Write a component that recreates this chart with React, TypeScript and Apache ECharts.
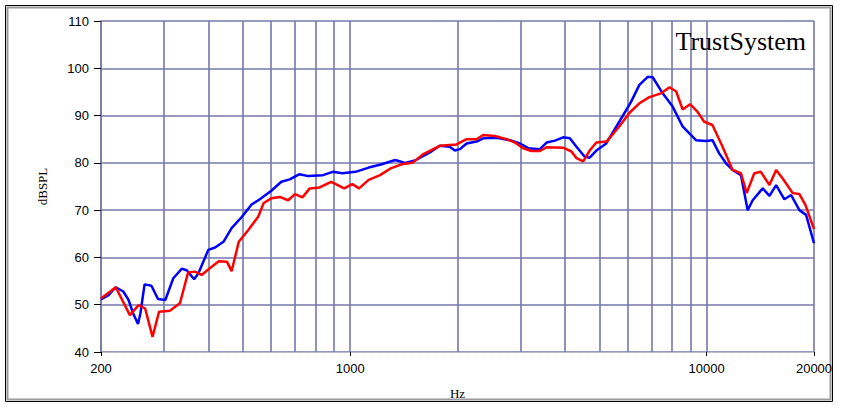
import React, { useEffect, useRef } from "react";
import * as echarts from "echarts";

const blueFreq = [200, 210, 220, 231, 239, 246, 254, 258, 265, 277, 289, 303, 319, 337, 348, 365, 375, 400, 418, 441, 465, 497, 529, 558, 601, 641, 677, 721, 762, 839, 893, 951, 1035, 1127, 1226, 1338, 1426, 1520, 1673, 1784, 1902, 1966, 2032, 2121, 2262, 2361, 2574, 2807, 2993, 3159, 3406, 3556, 3751, 3957, 4131, 4313, 4549, 4697, 4904, 5229, 5338, 5698, 6135, 6475, 6836, 7058, 7527, 8027, 8560, 9328, 9948, 10380, 10840, 11330, 11820, 12480, 13030, 13460, 14360, 15000, 15660, 16520, 17250, 18200, 19000, 20000];
const blueDb = [51.1, 52.0, 53.7, 52.8, 51.0, 48.2, 45.9, 48.2, 54.3, 54.0, 51.2, 51.0, 55.6, 57.6, 57.3, 55.4, 56.6, 61.6, 62.1, 63.3, 66.2, 68.6, 71.2, 72.3, 74.1, 76.0, 76.5, 77.6, 77.2, 77.4, 78.1, 77.8, 78.1, 79.0, 79.7, 80.6, 80.0, 80.5, 82.2, 83.6, 83.4, 82.6, 82.9, 84.1, 84.5, 85.2, 85.3, 84.8, 84.1, 83.1, 82.9, 84.3, 84.7, 85.4, 85.2, 83.4, 81.3, 81.1, 82.6, 84.1, 85.3, 88.8, 92.9, 96.5, 98.2, 98.1, 94.7, 91.9, 87.7, 84.8, 84.6, 84.8, 82.0, 79.9, 78.5, 77.4, 70.0, 72.1, 74.6, 73.0, 75.3, 72.3, 73.2, 70.0, 69.0, 63.0];

const redFreq = [200, 220, 241, 255, 266, 279, 291, 312, 333, 351, 367, 383, 404, 428, 451, 465, 487, 518, 552, 572, 601, 634, 670, 700, 735, 770, 821, 885, 962, 1014, 1059, 1127, 1213, 1304, 1397, 1495, 1599, 1784, 1902, 1988, 2121, 2262, 2361, 2544, 2748, 2898, 3057, 3224, 3406, 3556, 3957, 4175, 4313, 4505, 4697, 4904, 5229, 5338, 5698, 6076, 6475, 6906, 7451, 7871, 8212, 8560, 8988, 9424, 9842, 10380, 11080, 11820, 12480, 12950, 13600, 14190, 15000, 15660, 16340, 17430, 18200, 18920, 20000];
const redDb = [51.3, 53.7, 47.8, 49.9, 49.2, 43.2, 48.5, 48.7, 50.3, 56.8, 57.0, 56.3, 57.7, 59.2, 59.1, 57.1, 63.3, 65.8, 68.6, 71.5, 72.5, 72.8, 72.1, 73.4, 72.7, 74.6, 74.8, 76.0, 74.6, 75.5, 74.6, 76.4, 77.4, 78.9, 79.7, 80.0, 81.8, 83.6, 83.8, 83.9, 85.0, 85.0, 85.9, 85.7, 85.0, 84.3, 83.1, 82.5, 82.5, 83.3, 83.2, 82.4, 81.0, 80.3, 82.6, 84.3, 84.5, 85.2, 87.8, 90.6, 92.6, 93.9, 94.7, 96.0, 95.1, 91.3, 92.4, 90.8, 88.7, 88.0, 83.4, 78.5, 77.8, 73.6, 77.8, 78.1, 75.3, 78.5, 76.7, 73.6, 73.4, 71.1, 66.0];

const gridFreqs = [300, 400, 500, 600, 700, 800, 900, 2000, 3000, 4000, 5000, 6000, 7000, 8000, 9000];

const xMin = 200;
const xMax = 20000;
const yMin = 40;
const yMax = 110;
const yStep = 10;

const GRID_COLOR = "#7478a8";
const LABEL_FONT = "'Liberation Sans', Arial, sans-serif";
const NAME_FONT = "'Liberation Serif', 'DejaVu Serif', serif";

export default function App() {
  const ref = useRef<HTMLDivElement>(null);

  useEffect(() => {
    if (!ref.current) return;
    const chart = echarts.init(ref.current, null, { renderer: "svg" });
    const blueData = blueFreq.map((f, i) => [f, blueDb[i]]);
    const redData = redFreq.map((f, i) => [f, redDb[i]]);

    chart.setOption({
      animation: false,
      backgroundColor: "#ffffff",
      grid: { left: 101, right: 27, top: 21, bottom: 57, containLabel: false },
      xAxis: {
        type: "log",
        logBase: 10,
        min: xMin,
        max: xMax,
        name: "Hz",
        nameLocation: "middle",
        nameGap: 35,
        nameTextStyle: { fontFamily: NAME_FONT, fontSize: 13, color: "#000" },
        axisLine: { show: true, lineStyle: { color: "#c8c8c8", width: 1, type: "dotted" } },
        axisTick: { show: true, length: 4, lineStyle: { color: "#000" } },
        axisLabel: {
          fontFamily: LABEL_FONT,
          fontSize: 13,
          color: "#000",
          margin: 10,
          formatter: (v: number) => String(Math.round(v)),
        },
        splitLine: { show: true, lineStyle: { color: GRID_COLOR, width: 1.6 } },
      },
      yAxis: {
        type: "value",
        min: yMin,
        max: yMax,
        interval: yStep,
        name: "dBSPL",
        nameLocation: "middle",
        nameGap: 52,
        nameTextStyle: { fontFamily: NAME_FONT, fontSize: 13, color: "#000" },
        axisLine: { show: true, lineStyle: { color: GRID_COLOR, width: 1.6 } },
        axisTick: { show: true, length: 7, lineStyle: { color: "#000" } },
        axisLabel: { fontFamily: LABEL_FONT, fontSize: 13, color: "#000", margin: 12 },
        splitLine: { show: true, lineStyle: { color: GRID_COLOR, width: 1.6 } },
      },
      series: [
        {
          type: "line",
          data: [],
          z: 1,
          silent: true,
          markLine: {
            z: 1,
            silent: true,
            symbol: ["none", "none"],
            label: { show: false },
            lineStyle: { color: GRID_COLOR, width: 1.6, type: "solid" },
            emphasis: { disabled: true },
            data: gridFreqs.map((f) => ({ xAxis: f })),
          },
        },
        {
          type: "line",
          data: blueData,
          z: 3,
          showSymbol: false,
          smooth: false,
          lineStyle: { color: "#0000ff", width: 2.5 },
          itemStyle: { color: "#0000ff" },
        },
        {
          type: "line",
          data: redData,
          z: 4,
          showSymbol: false,
          smooth: false,
          lineStyle: { color: "#ff0000", width: 2.5 },
          itemStyle: { color: "#ff0000" },
        },
      ],
      graphic: [
        {
          type: "rect",
          shape: { x: 5.5, y: 5.5, width: 827, height: 396 },
          style: { fill: "none", stroke: "#000", lineWidth: 1 },
          silent: true,
        },
        {
          type: "rect",
          shape: { x: 7.5, y: 7.5, width: 823, height: 392 },
          style: { fill: "none", stroke: "#9a9a9a", lineWidth: 2 },
          silent: true,
        },
        {
          type: "text",
          x: 806,
          y: 41,
          z: 10,
          style: {
            text: "TrustSystem",
            font: "26px 'Liberation Serif', 'Times New Roman', serif",
            fill: "#000",
            align: "right",
            verticalAlign: "middle",
          },
          silent: true,
        },
      ],
    });
    return () => chart.dispose();
  }, []);

  return (
    <div
      ref={ref}
      style={{ position: "fixed", left: 0, top: 0, width: 841, height: 409 }}
    />
  );
}
